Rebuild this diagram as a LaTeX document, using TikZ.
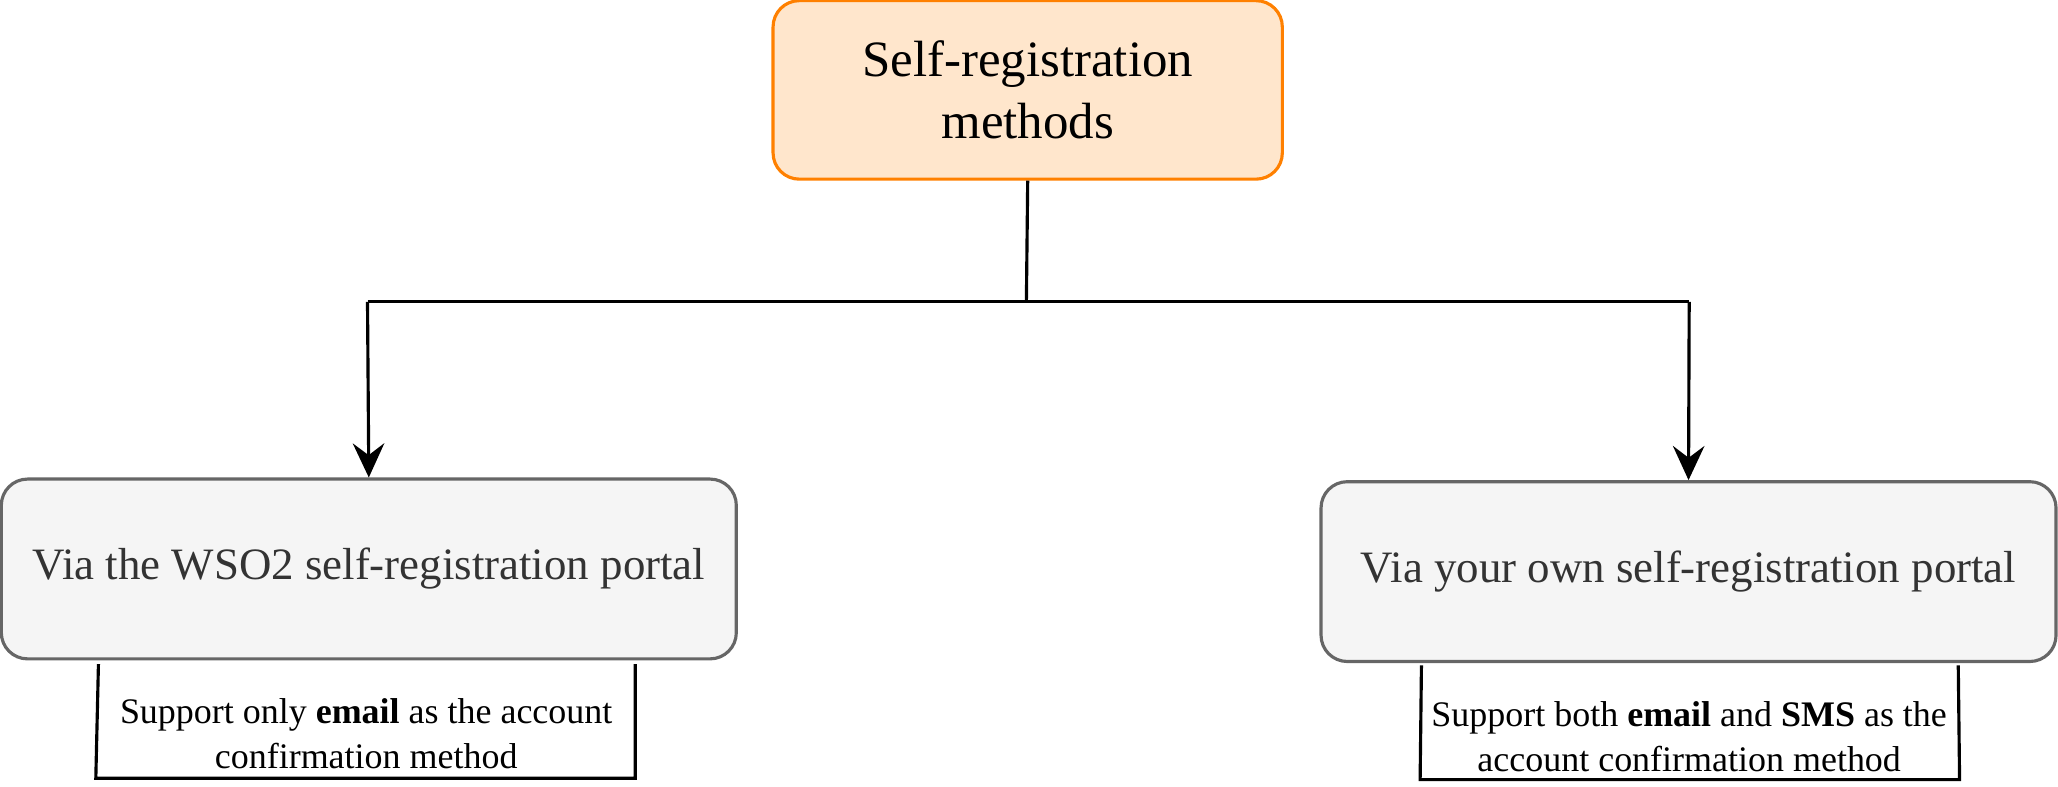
\documentclass[tikz,border=0pt]{standalone}
\usepackage{fontspec}
\setmainfont{Liberation Serif}
\usetikzlibrary{arrows.meta}
\definecolor{regorange}{HTML}{FF8000}
\definecolor{regfill}{HTML}{FFE6CC}
\definecolor{portalfill}{HTML}{F5F5F5}
\definecolor{portalline}{HTML}{666666}
\definecolor{portaltext}{HTML}{333333}
\tikzset{
  method/.style={draw=regorange, fill=regfill, line width=1.2pt, rounded corners=10pt,
    minimum width=194pt, minimum height=68pt, align=center,
    font=\fontsize{19.4}{23.5}\selectfont},
  portal/.style={draw=portalline, fill=portalfill, text=portaltext, line width=1.2pt,
    rounded corners=10pt, minimum width=280pt, minimum height=68.5pt,
    font=\fontsize{17.1}{21}\selectfont},
  note/.style={align=center, font=\fontsize{13.7}{17}\selectfont},
  link/.style={line width=1.2pt},
  tip/.style={-{Stealth[length=13pt, width=12pt, inset=4.5pt]}},
}
\begin{document}
\begin{tikzpicture}[x=0.5pt, y=-0.5pt]
      \useasboundingbox (0,0) rectangle (1568,599);
      \draw
        (783,68.5) node[method] (top){Self-registration\\methods}
        (281,433.5) node[portal] (wso){Via the WSO2 self-registration portal}
        (1286.5,435.5) node[portal] (own){Via your own self-registration portal}
        (279,559) node[note] (wsonote){Support only \textbf{email} as the account\\confirmation method}
        (1287,561.5) node[note] (ownnote){Support both \textbf{email} and \textbf{SMS} as the\\account confirmation method};
      \coordinate (split) at (782,230);
      \coordinate (lbend) at (280,230);
      \coordinate (rbend) at (1287,230);
      \coordinate (wsoa) at (75,506);
      \coordinate (wsob) at (73,593);
      \coordinate (wsoc) at (484,593);
      \coordinate (wsod) at (484,506);
      \coordinate (owna) at (1083,507);
      \coordinate (ownb) at (1082,594);
      \coordinate (ownc) at (1493,594);
      \coordinate (ownd) at (1492,507);
      \begin{scope}[link]
        \draw (top.south) to (split);
        \draw (lbend) to (rbend);
        \draw[tip] (lbend) to (wso.north);
        \draw[tip] (rbend) to (own.north);
        \draw (wsoa) -- (wsob) -- (wsoc) -- (wsod);
        \draw (owna) -- (ownb) -- (ownc) -- (ownd);
      \end{scope}
    \end{tikzpicture}
\end{document}
